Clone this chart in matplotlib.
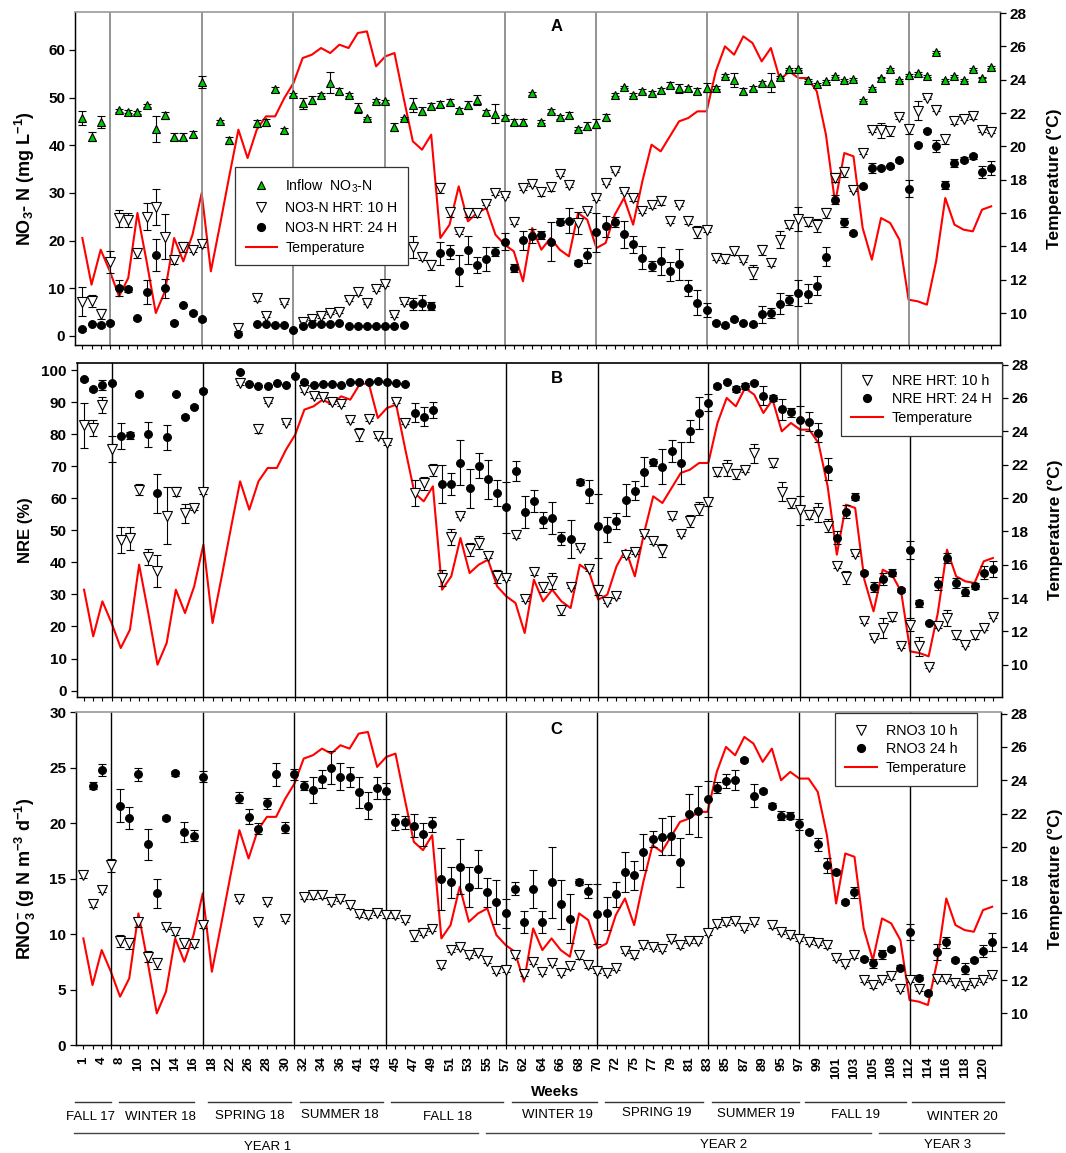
import numpy as np
import matplotlib
matplotlib.use('Agg')
import matplotlib.pyplot as plt
from matplotlib.lines import Line2D

plt.rcParams['font.family'] = ['Liberation Sans', 'DejaVu Sans']
plt.rcParams['mathtext.fontset'] = 'custom'
plt.rcParams['mathtext.rm'] = 'Liberation Sans'
plt.rcParams['mathtext.bf'] = 'Liberation Sans:bold'
plt.rcParams['mathtext.it'] = 'Liberation Sans:italic'

nan = np.nan

# ---------------- data ----------------
week_labels = ['1', '4', '8', '10', '12', '14', '16', '18', '22', '26', '28', '30', '32', '34', '36',
               '41', '43', '45', '47', '49', '51', '53', '55', '57', '62', '64', '66', '68', '70',
               '72', '75', '77', '79', '81', '83', '85', '87', '89', '95', '97', '99', '101', '103',
               '105', '108', '112', '114', '116', '118', '120']

season_breaks = [3, 13, 23, 33, 46, 56, 68, 78, 90]

temperature = [14.5, 11.7, 13.8, 12.5, 11.0, 12.1, 16.0, 13.1, 10.0, 11.3,
               14.5, 13.1, 14.7, 17.2, 12.5, 15.3, 18.2, 21.0, 19.3, 21.0,
               21.8, 21.8, 22.9, 23.8, 25.3, 25.5, 25.9, 25.6, 26.1, 25.9,
               26.8, 26.9, 24.8, 25.4, 25.6, 22.9, 20.3, 19.8, 20.7, 14.5,
               15.3, 17.6, 15.5, 16.0, 16.3, 14.7, 14.1, 13.7, 11.9, 15.1,
               13.8, 14.5, 13.8, 13.4, 16.0, 15.6, 13.9, 14.2, 15.9, 16.9,
               15.3, 17.9, 20.1, 19.7, 20.6, 21.5, 21.7, 22.1, 22.1, 24.5,
               26.0, 25.5, 26.6, 26.2, 25.1, 25.9, 24.0, 24.5, 24.1, 24.1,
               23.3, 20.7, 16.6, 19.6, 19.4, 15.1, 13.2, 15.7, 15.4, 14.4,
               10.8, 10.7, 10.5, 13.1, 16.9, 15.3, 15.0, 14.9, 16.2, 16.4]

inflow_no3 = [45.7, 41.8, 44.9, nan, 47.3, 47.0, 46.9, 48.4, 43.4, 46.3,
              41.8, 41.8, 42.4, 53.3, nan, 45.0, 41.0, nan, nan, 44.6,
              44.8, 51.7, 43.1, 50.7, 48.8, 49.5, 50.6, 53.1, 51.4, 50.6,
              47.8, 45.7, 49.3, 49.2, 43.8, 45.7, 48.5, 47.2, 48.3, 48.6,
              49.1, 47.3, 48.4, 49.5, 46.9, 46.6, 46.0, 44.9, 44.9, 50.9,
              44.9, 47.1, 45.9, 46.3, 43.5, 44.0, 44.5, 45.9, 50.6, 52.2,
              50.6, 51.3, 50.9, 51.5, 52.7, 51.9, 51.9, 51.4, 52.1, 52.1,
              54.6, 53.7, 51.3, 52.0, 53.1, 53.1, 54.3, 56.0, 56.0, 53.6,
              52.9, 53.4, 54.5, 53.7, 53.9, 49.5, 52.0, 54.2, 56.0, 53.6,
              54.8, 55.1, 54.5, 59.5, 53.6, 54.6, 53.6, 55.9, 54.2, 56.4]
inflow_err = [1.5, 1.0, 1.3, 0, 0.3, 0.3, 0.3, 0.3, 2.8, 0.7,
              0.8, 0.8, 0.6, 1.3, 0, 0.3, 0.7, 0, 0, 0.7,
              0.8, 0.5, 0.5, 0.3, 1.2, 0.8, 0.3, 2.2, 0.6, 0.3,
              1.0, 0.3, 0.3, 0.3, 0.8, 0.3, 1.5, 0.8, 0.6, 0.6,
              0.5, 0.5, 0.8, 1.0, 0.5, 2.0, 0.4, 0.6, 0.6, 0.3,
              0.3, 0.4, 0.4, 0.6, 0.4, 0.8, 0.9, 0.6, 0.3, 0.3,
              0.3, 0.4, 0.4, 0.5, 0.5, 1.0, 0.5, 0.6, 0.9, 0.3,
              0.3, 1.5, 0.6, 0.4, 0.4, 2.0, 0.2, 0.2, 0.2, 0.2,
              0.2, 0.2, 0.2, 0.2, 0.2, 0.2, 0.2, 0.2, 0.2, 0.2,
              0.2, 0.2, 0.2, 0.2, 0.2, 0.2, 0.2, 0.2, 0.2, 0.2]

no3_10h = [7.2, 7.3, 4.6, 15.6, 24.7, 24.3, 17.3, 25.0, 27.0, 20.8,
           15.9, 18.7, 18.0, 19.2, nan, nan, nan, 1.7, nan, 7.9,
           4.2, nan, 6.9, nan, 2.9, 3.6, 4.1, 4.8, 5.1, 7.6,
           9.3, 6.9, 9.8, 10.9, 4.3, 7.1, 18.7, 16.6, 14.9, 31.0,
           25.9, 21.7, 25.7, 25.7, 27.7, 29.9, 29.4, 24.0, 31.0, 31.9,
           30.2, 31.2, 33.9, 31.6, 23.6, 26.2, 29.0, 32.1, 34.6, 30.2,
           28.9, 26.1, 27.4, 28.4, 24.2, 27.5, 24.2, 21.8, 22.2, 16.4,
           16.2, 17.8, 15.9, 13.4, 18.0, 15.2, 20.2, 23.2, 24.5, 24.0,
           23.2, 25.8, 33.2, 34.4, 30.7, 38.4, 43.1, 43.1, 42.9, 45.9,
           43.3, 47.2, 49.9, 47.4, 41.2, 45.1, 45.6, 46.1, 43.1, 42.8]
no3_10h_err = [3.0, 1.2, 1.0, 2.3, 1.8, 1.5, 1.0, 2.8, 3.8, 4.7,
               0.8, 1.0, 0.5, 0.5, 0, 0, 0, 0.7, 0, 0.5,
               0.3, 0, 0.3, 0, 0.3, 0.3, 0.3, 0.3, 0.3, 0.3,
               0.7, 0.3, 0.3, 0.5, 0.3, 0.3, 2.3, 0.7, 1.0, 1.0,
               1.0, 0.3, 0.8, 0.8, 0.3, 0.3, 0.3, 0.5, 0.3, 0.5,
               0.8, 0.8, 0.3, 0.3, 2.3, 0.3, 0.5, 0.3, 0.3, 0.3,
               0.5, 0.3, 0.5, 1.0, 0.5, 0.3, 0.8, 1.2, 0.5, 0.5,
               1.0, 0.8, 0.3, 1.5, 1.0, 0.5, 1.8, 0.5, 2.5, 1.0,
               1.3, 1.0, 1.0, 1.0, 0.3, 0.3, 0.3, 1.5, 1.0, 0.3,
               1.0, 2.0, 0.3, 0.3, 1.0, 0.6, 0.3, 0.5, 0.3, 0.3]

no3_24h = [1.4, 2.5, 2.3, 2.8, 10.0, 9.8, 3.7, 9.2, 17.0, 10.0,
           2.8, 6.5, 4.9, 3.5, nan, nan, nan, 0.4, nan, 2.4,
           2.4, 2.3, 2.3, 1.3, 2.0, 2.4, 2.5, 2.5, 2.7, 2.0,
           2.0, 2.0, 2.0, 2.0, 2.0, 2.3, 6.7, 7.0, 6.3, 17.3,
           17.6, 13.7, 18.0, 14.8, 16.2, 17.7, 19.8, 14.3, 20.1, 21.0,
           21.2, 19.8, 24.0, 24.2, 15.4, 16.9, 21.7, 23.0, 23.9, 21.3,
           19.2, 16.4, 14.7, 15.7, 13.6, 15.0, 10.1, 7.0, 5.4, 2.8,
           2.2, 3.5, 2.7, 2.4, 4.5, 4.8, 6.8, 7.5, 9.0, 8.9,
           10.5, 16.6, 28.6, 23.8, 21.5, 31.4, 35.2, 35.3, 35.6, 36.8,
           30.9, 40.1, 43.0, 39.8, 31.6, 36.3, 37.0, 37.7, 34.4, 35.2]
no3_24h_err = [0.3, 0.3, 0.5, 0.3, 1.7, 0.5, 0.3, 2.5, 3.4, 2.0,
               0.3, 0.3, 0.3, 0.3, 0, 0, 0, 0.3, 0, 0.2,
               0.2, 0.2, 0.2, 0.2, 0.2, 0.2, 0.2, 0.2, 0.2, 0.2,
               0.2, 0.2, 0.2, 0.2, 0.2, 0.2, 1.2, 1.5, 0.8, 2.5,
               1.5, 3.2, 3.0, 1.7, 2.5, 1.0, 1.7, 0.8, 2.0, 1.5,
               0.8, 4.0, 0.8, 2.7, 0.5, 1.6, 4.0, 2.2, 1.0, 2.8,
               1.8, 2.4, 1.0, 3.0, 2.0, 3.2, 1.7, 2.6, 1.5, 0.3,
               0.3, 0.3, 0.3, 0.3, 1.8, 1.0, 2.2, 1.0, 2.8, 2.0,
               2.0, 2.0, 1.0, 1.0, 0.3, 0.3, 1.0, 0.3, 0.3, 0.3,
               1.7, 0.3, 0.3, 1.2, 0.8, 0.8, 0.5, 0.5, 1.2, 1.5]

nre_10h = [82.8, 81.8, 89.1, 75.3, 47.0, 47.5, 62.6, 41.6, 37.4, 54.6,
           62.1, 55.3, 56.9, 62.1, nan, nan, nan, 95.8, nan, 81.5,
           90.1, nan, 83.6, nan, 93.8, 91.9, 91.7, 89.9, 89.3, 84.4,
           80.0, 84.6, 79.4, 77.1, 90.1, 83.6, 61.7, 64.7, 68.8, 35.2,
           47.8, 54.5, 44.1, 46.2, 42.0, 35.6, 35.0, 48.5, 28.5, 37.0,
           32.4, 34.3, 25.2, 32.4, 44.6, 37.9, 31.3, 27.7, 29.5, 42.3,
           43.2, 48.8, 46.8, 43.8, 54.6, 48.8, 52.9, 56.7, 58.7, 68.3,
           69.5, 67.5, 68.7, 74.0, nan, 71.1, 62.1, 58.5, 56.2, 54.9,
           55.6, 51.5, 38.9, 35.3, 42.5, 21.7, 16.5, 19.5, 23.1, 13.8,
           20.5, 13.8, 7.5, 20.0, 22.6, 17.2, 14.3, 17.2, 19.5, 23.1]
nre_10h_err = [7.0, 2.5, 2.5, 4.0, 4.0, 3.5, 1.7, 2.5, 5.0, 9.0,
               1.5, 3.0, 0.5, 0.8, 0, 0, 0, 0.5, 0, 1.0,
               0.3, 0, 0.3, 0, 0.5, 0.5, 0.5, 0.5, 0.5, 0.5,
               2.0, 0.5, 0.5, 0.5, 0.5, 0.5, 4.0, 2.0, 2.0, 2.5,
               2.5, 0.5, 2.0, 2.0, 0.5, 2.0, 0.5, 1.0, 0.5, 1.0,
               1.5, 2.5, 1.5, 0.5, 0.5, 0.5, 1.5, 0.5, 0.5, 0.5,
               0.5, 0.5, 1.0, 2.0, 1.0, 0.5, 2.0, 2.0, 1.0, 1.5,
               2.5, 1.5, 0.5, 3.0, 0, 1.5, 3.0, 1.5, 4.5, 1.5,
               3.0, 2.0, 0.5, 2.0, 0.5, 0.5, 0.5, 3.0, 1.5, 0.5,
               2.0, 3.0, 0.5, 0.5, 2.5, 1.0, 0.5, 1.0, 0.5, 0.5]

nre_24h = [97.1, 94.0, 95.4, 96.0, 79.4, 79.6, 92.4, 79.9, 61.5, 79.0,
           92.4, 85.4, 88.6, 93.6, nan, nan, nan, 99.5, 95.6, 95.0,
           95.0, 96.0, 95.3, 98.1, 96.2, 95.4, 95.5, 95.6, 95.4, 96.4,
           96.4, 96.3, 96.5, 96.4, 95.8, 95.5, 86.7, 85.4, 87.5, 64.4,
           64.4, 71.1, 63.1, 70.2, 65.9, 61.7, 57.2, 68.5, 55.7, 59.2,
           53.2, 53.9, 47.5, 47.3, 65.0, 62.1, 51.4, 50.3, 53.0, 59.5,
           62.4, 68.3, 71.2, 69.8, 74.8, 71.1, 81.0, 86.7, 89.8, 95.0,
           96.4, 94.0, 95.0, 96.1, 92.0, 91.2, 87.7, 86.8, 84.3, 83.9,
           80.5, 69.1, 47.7, 55.8, 60.5, 36.8, 32.4, 34.8, 36.8, 31.4,
           43.9, 27.2, 21.2, 33.3, 41.3, 33.5, 30.9, 32.6, 36.8, 37.8]
nre_24h_err = [0.5, 0.5, 1.5, 0.3, 4.0, 1.0, 0.5, 4.0, 6.0, 4.0,
               0.3, 0.5, 0.5, 0.5, 0, 0, 0, 0.3, 0.3, 0.3,
               0.3, 0.3, 0.3, 0.3, 0.3, 0.3, 0.3, 0.3, 0.3, 0.3,
               0.3, 0.3, 0.3, 0.3, 0.3, 0.3, 3.0, 3.0, 2.5, 6.0,
               3.5, 7.0, 6.0, 4.0, 6.0, 4.0, 8.0, 3.0, 5.0, 3.5,
               2.5, 5.0, 2.0, 6.0, 1.0, 3.5, 10.0, 4.0, 2.5, 5.0,
               3.0, 4.5, 1.0, 5.5, 3.5, 6.5, 3.5, 5.0, 2.7, 0.5,
               0.5, 1.0, 1.0, 0.5, 3.0, 1.0, 3.3, 1.5, 4.5, 3.0,
               3.0, 3.5, 2.0, 2.0, 1.0, 0.5, 1.5, 2.0, 1.0, 0.5,
               2.8, 1.0, 0.5, 2.0, 1.5, 1.5, 1.5, 1.0, 2.0, 2.5]

rno3_10h = [15.3, 12.7, 14.0, 16.2, 9.4, 9.2, 11.1, 8.0, 7.4, 10.7,
            10.2, 9.2, 9.1, 10.8, nan, nan, nan, 13.2, nan, 11.1,
            12.9, nan, 11.4, nan, 13.4, 13.5, 13.5, 12.9, 13.2, 12.6,
            11.8, 11.7, 11.9, 11.7, 11.7, 11.3, 9.9, 10.1, 10.5, 7.2,
            8.6, 8.9, 8.1, 8.3, 7.6, 6.7, 6.8, 8.1, 6.4, 7.5,
            6.6, 7.4, 6.5, 7.1, 8.1, 7.2, 6.7, 6.5, 7.0, 8.5,
            8.1, 9.0, 8.9, 8.7, 9.6, 9.0, 9.4, 9.4, 10.1, 10.9,
            11.1, 11.2, 10.6, 11.1, nan, 10.8, 10.2, 9.9, 9.6, 9.3,
            9.2, 9.0, 7.9, 7.3, 8.1, 5.9, 5.4, 5.9, 6.2, 5.1,
            5.9, 5.1, nan, 6.0, 6.0, 5.6, 5.3, 5.6, 5.9, 6.3]
rno3_10h_err = [0.2, 0.2, 0.2, 0.6, 0.5, 0.5, 0.4, 0.5, 0.5, 0.2,
                0.3, 0.4, 0.2, 0.2, 0, 0, 0, 0.2, 0, 0.2,
                0.2, 0, 0.2, 0, 0.2, 0.3, 0.2, 0.2, 0.2, 0.2,
                0.2, 0.2, 0.2, 0.2, 0.2, 0.2, 0.5, 0.2, 0.2, 0.2,
                0.2, 0.2, 0.2, 0.2, 0.2, 0.2, 0.2, 0.2, 0.2, 0.2,
                0.2, 0.2, 0.2, 0.2, 0.3, 0.2, 0.2, 0.2, 0.2, 0.2,
                0.2, 0.2, 0.2, 0.2, 0.2, 0.2, 0.2, 0.2, 0.2, 0.2,
                0.3, 0.2, 0.2, 0.2, 0, 0.2, 0.2, 0.2, 0.2, 0.2,
                0.2, 0.2, 0.2, 0.2, 0.2, 0.2, 0.2, 0.2, 0.2, 0.2,
                0.2, 0.2, 0, 0.2, 0.2, 0.2, 0.2, 0.2, 0.2, 0.2]

rno3_24h = [nan, 23.4, 24.8, nan, 21.6, 20.5, 24.4, 18.1, 13.7, 20.5,
            24.5, 19.2, 18.9, 24.2, nan, nan, nan, 22.3, 20.6, 19.5,
            21.8, 24.4, 19.6, 24.4, 23.4, 23.0, 24.0, 25.0, 24.2, 24.2,
            22.8, 21.6, 23.2, 22.9, 20.1, 20.1, 19.8, 19.0, 19.9, 15.0,
            14.7, 16.1, 14.3, 15.9, 13.8, 12.9, 11.9, 14.1, 11.1, 14.1,
            11.1, 14.7, 12.7, 11.4, 14.7, 13.9, 11.8, 11.9, 13.6, 15.6,
            15.3, 17.4, 18.6, 18.8, 18.9, 16.5, 20.8, 21.1, 22.2, 23.2,
            23.8, 23.9, 25.7, 22.5, 22.9, 21.6, 20.7, 20.7, 19.9, 19.2,
            18.1, 16.2, 15.6, 12.9, 13.8, 7.8, 7.4, 8.2, 8.7, 7.0,
            10.2, 6.1, 4.7, 8.4, 9.3, 7.7, 6.9, 7.7, 8.5, 9.3]
rno3_24h_err = [0, 0.3, 0.5, 0, 1.5, 1.0, 0.6, 1.4, 1.3, 0.2,
                0.2, 0.9, 0.5, 0.5, 0, 0, 0, 0.5, 0.7, 0.5,
                0.5, 1.0, 0.5, 0.5, 0.4, 1.2, 0.8, 1.5, 1.2, 0.9,
                1.4, 1.2, 1.0, 0.7, 0.7, 0.6, 1.0, 1.0, 0.7, 2.8,
                1.4, 2.5, 1.8, 1.7, 1.3, 2.0, 1.3, 0.6, 1.0, 1.7,
                1.0, 3.2, 2.2, 2.2, 0.3, 0.6, 2.7, 1.5, 1.1, 1.8,
                1.3, 1.6, 0.7, 1.7, 1.8, 2.2, 1.8, 2.3, 1.6, 0.5,
                0.6, 0.9, 0.2, 1.0, 0.2, 0.2, 0.4, 0.3, 0.5, 0.2,
                0.6, 0.7, 0.2, 0.2, 0.5, 0.2, 0.4, 0.4, 0.2, 0.2,
                0.7, 0.2, 0.2, 0.7, 0.5, 0.2, 0.5, 0.2, 0.5, 0.8]

seasons = ['FALL 17', 'WINTER 18', 'SPRING 18', 'SUMMER 18', 'FALL 18',
           'WINTER 19', 'SPRING 19', 'SUMMER 19', 'FALL 19', 'WINTER 20']
years = ['YEAR 1', 'YEAR 2', 'YEAR 3']

# ---------------- layout (pixels) ----------------
W, H = 1066, 1153
fig = plt.figure(figsize=(W / 100, H / 100), dpi=100)


def add_ax(l, t, r, b):
    return fig.add_axes([l / W, 1 - b / H, (r - l) / W, (b - t) / H])


x = np.arange(len(temperature))
XLIM = (-0.8, 99.96)
TLIM = (8.08, 28.08)
GREEN = '#00c800'


def style_axes(ax, ax2, ylim, yticks, show_xlabels, vcolor, vlw, topcolor):
    ax.set_xlim(*XLIM)
    ax.set_ylim(*ylim)
    ax.set_yticks(yticks)
    ax.set_xticks(x)
    if show_xlabels:
        ax.set_xticklabels([week_labels[i // 2] if i % 2 == 0 else '' for i in x],
                           rotation=90, fontsize=9.5, fontweight='bold')
    else:
        ax.set_xticklabels([])
    ax.tick_params(axis='x', direction='out', length=3, width=0.8, pad=5)
    ax.tick_params(axis='y', direction='out', length=4, width=0.9, labelsize=11, pad=3)
    for lab in ax.get_yticklabels():
        lab.set_fontweight('bold')
    for s in ['left', 'bottom']:
        ax.spines[s].set_linewidth(1.0)
    ax.spines['top'].set_color(topcolor)
    ax.spines['top'].set_linewidth(1.2)
    for b in season_breaks:
        ax.axvline(b, color=vcolor, lw=vlw, zorder=0)
    ax2.set_ylim(*TLIM)
    ax2.set_yticks(np.arange(10, 29, 2))
    ax2.tick_params(axis='y', direction='out', length=4, width=0.9, labelsize=11, pad=3)
    for lab in ax2.get_yticklabels():
        lab.set_fontweight('bold')
    ax2.spines['top'].set_visible(False)
    ax2.spines['right'].set_linewidth(1.0)
    ax2.set_ylabel('Temperature (°C)', fontsize=12.5, fontweight='bold', labelpad=14)
    ax.set_zorder(ax2.get_zorder() + 1)
    ax.patch.set_visible(False)


def err_series(ax, y, e, marker, ms, mfc, mec='black', mew=0.8):
    ax.errorbar(x, y, yerr=e, fmt='none', ecolor='black', elinewidth=0.8,
                capsize=3, capthick=0.8, zorder=2)
    ax.plot(x, y, linestyle='none', marker=marker, markersize=ms,
            markerfacecolor=mfc, markeredgecolor=mec, markeredgewidth=mew, zorder=3)


def make_legend(ax, handles, labels, loc, anchor, fs, bpad, lspace):
    leg = ax.legend(handles, labels, loc=loc, bbox_to_anchor=anchor, borderaxespad=0,
                    fontsize=fs, frameon=True, fancybox=False, edgecolor='#333333',
                    framealpha=1, handlelength=2.2, handletextpad=0.6,
                    borderpad=bpad, labelspacing=lspace)
    leg.get_frame().set_linewidth(0.9)
    return leg


# ---------- Panel A ----------
axA = add_ax(75, 11.7, 1000, 345)
axA2 = axA.twinx()
axA2.plot(x, temperature, color='red', lw=1.5, zorder=1)
err_series(axA, inflow_no3, inflow_err, '^', 6.3, GREEN)
err_series(axA, no3_10h, no3_10h_err, 'v', 6.8, 'white')
err_series(axA, no3_24h, no3_24h_err, 'o', 5.6, 'black')
style_axes(axA, axA2, (-1.9, 68.0), np.arange(0, 61, 10), False, '#8a8a8a', 1.3, '#999999')
axA.set_ylabel(r'NO$_\mathbf{3}$- N (mg L$^\mathbf{-1}$)', fontsize=13, fontweight='bold', labelpad=8)
axA.text(0.521, 0.955, 'A', transform=axA.transAxes, fontsize=12, fontweight='bold',
         ha='center', va='center')

hA = [Line2D([], [], ls='none', marker='^', ms=6.3, mfc=GREEN, mec='black', mew=0.8),
      Line2D([], [], ls='none', marker='v', ms=6.8, mfc='white', mec='black', mew=0.8),
      Line2D([], [], ls='none', marker='o', ms=5.6, mfc='black', mec='black'),
      Line2D([], [], color='red', lw=1.5)]
make_legend(axA, hA, [r'Inflow  NO$_\mathrm{3}$-N', 'NO3-N HRT: 10 H', 'NO3-N HRT: 24 H', 'Temperature'],
            'upper left', ((235 - 75) / 925, 1 - (166.7 - 11.7) / 333.3), 10.2, 0.75, 0.42)

# ---------- Panel B ----------
axB = add_ax(76.7, 363.3, 1001.7, 696.7)
axB2 = axB.twinx()
axB2.plot(x, temperature, color='red', lw=1.5, zorder=1)
err_series(axB, nre_10h, nre_10h_err, 'v', 6.8, 'white')
err_series(axB, nre_24h, nre_24h_err, 'o', 5.6, 'black')
style_axes(axB, axB2, (-1.9, 102.1), np.arange(0, 101, 10), False, 'black', 1.0, 'black')
axB.set_ylabel('NRE (%)', fontsize=12, fontweight='bold', labelpad=6)
axB.text(0.519, 0.955, 'B', transform=axB.transAxes, fontsize=12, fontweight='bold',
         ha='center', va='center')
hB = [Line2D([], [], ls='none', marker='v', ms=6.8, mfc='white', mec='black', mew=0.8),
      Line2D([], [], ls='none', marker='o', ms=5.6, mfc='black', mec='black'),
      Line2D([], [], color='red', lw=1.5)]
make_legend(axB, hB, ['NRE HRT: 10 h', 'NRE HRT: 24 H', 'Temperature'],
            'upper right', (1.0, 1.0), 10.4, 0.72, 0.33)

# ---------- Panel C ----------
axC = add_ax(76, 712.3, 1001, 1045.3)
axC2 = axC.twinx()
axC2.plot(x, temperature, color='red', lw=1.5, zorder=1)
err_series(axC, rno3_10h, rno3_10h_err, 'v', 6.8, 'white')
err_series(axC, rno3_24h, rno3_24h_err, 'o', 5.6, 'black')
style_axes(axC, axC2, (0, 30), np.arange(0, 31, 5), True, 'black', 1.0, '#999999')
axC.set_ylabel(r'RNO$_\mathbf{3}^\mathbf{-}$ (g N m$^\mathbf{-3}$ d$^\mathbf{-1}$)',
               fontsize=13, fontweight='bold', labelpad=8)
axC.text(0.519, 0.948, 'C', transform=axC.transAxes, fontsize=12, fontweight='bold',
         ha='center', va='center')
hC = [Line2D([], [], ls='none', marker='v', ms=6.8, mfc='white', mec='black', mew=0.8),
      Line2D([], [], ls='none', marker='o', ms=5.6, mfc='black', mec='black'),
      Line2D([], [], color='red', lw=1.5)]
make_legend(axC, hC, ['RNO3 10 h', 'RNO3 24 h', 'Temperature'],
            'upper left', ((834.8 - 76) / 925, 1 - (713.3 - 712.3) / 333), 10.4, 0.72, 0.33)

# ---------- bottom annotations ----------
def fx(px):
    return px / W


def fy(py):
    return 1 - py / H


fig.text(fx(555), fy(1092), 'Weeks', fontsize=11, fontweight='bold', ha='center', va='center')

season_spans = [(75, 110.7), (119.3, 194.3), (207.7, 291.3), (300, 383.3), (390.7, 503.3),
                (511.7, 597.3), (605, 703.3), (712.3, 798.7), (805, 906), (912.3, 1004)]
season_lx = [90, 160, 249.3, 340, 447.3, 557, 656.7, 755.7, 855.7, 962.7]
season_ly = [1117.3, 1117.3, 1116, 1115, 1117.3, 1115, 1113.5, 1114, 1115, 1117.3]
for name, (a, b), lx, ly in zip(seasons, season_spans, season_lx, season_ly):
    fig.add_artist(Line2D([fx(a), fx(b)], [fy(1101.7)] * 2, transform=fig.transFigure,
                          color='#333333', lw=1.0))
    fig.text(fx(lx), fy(ly), name, fontsize=9.5, ha='center', va='center')

year_spans = [(74, 478.3), (485.7, 871), (879.3, 1004)]
year_lx = [267.3, 723.3, 947.3]
year_ly = [1146.7, 1145.5, 1145.5]
for name, (a, b), lx, ly in zip(years, year_spans, year_lx, year_ly):
    fig.add_artist(Line2D([fx(a), fx(b)], [fy(1133.3)] * 2, transform=fig.transFigure,
                          color='#444444', lw=1.0))
    fig.text(fx(lx), fy(ly), name, fontsize=9.5, ha='center', va='center')

fig.savefig('out.png', dpi=100)
